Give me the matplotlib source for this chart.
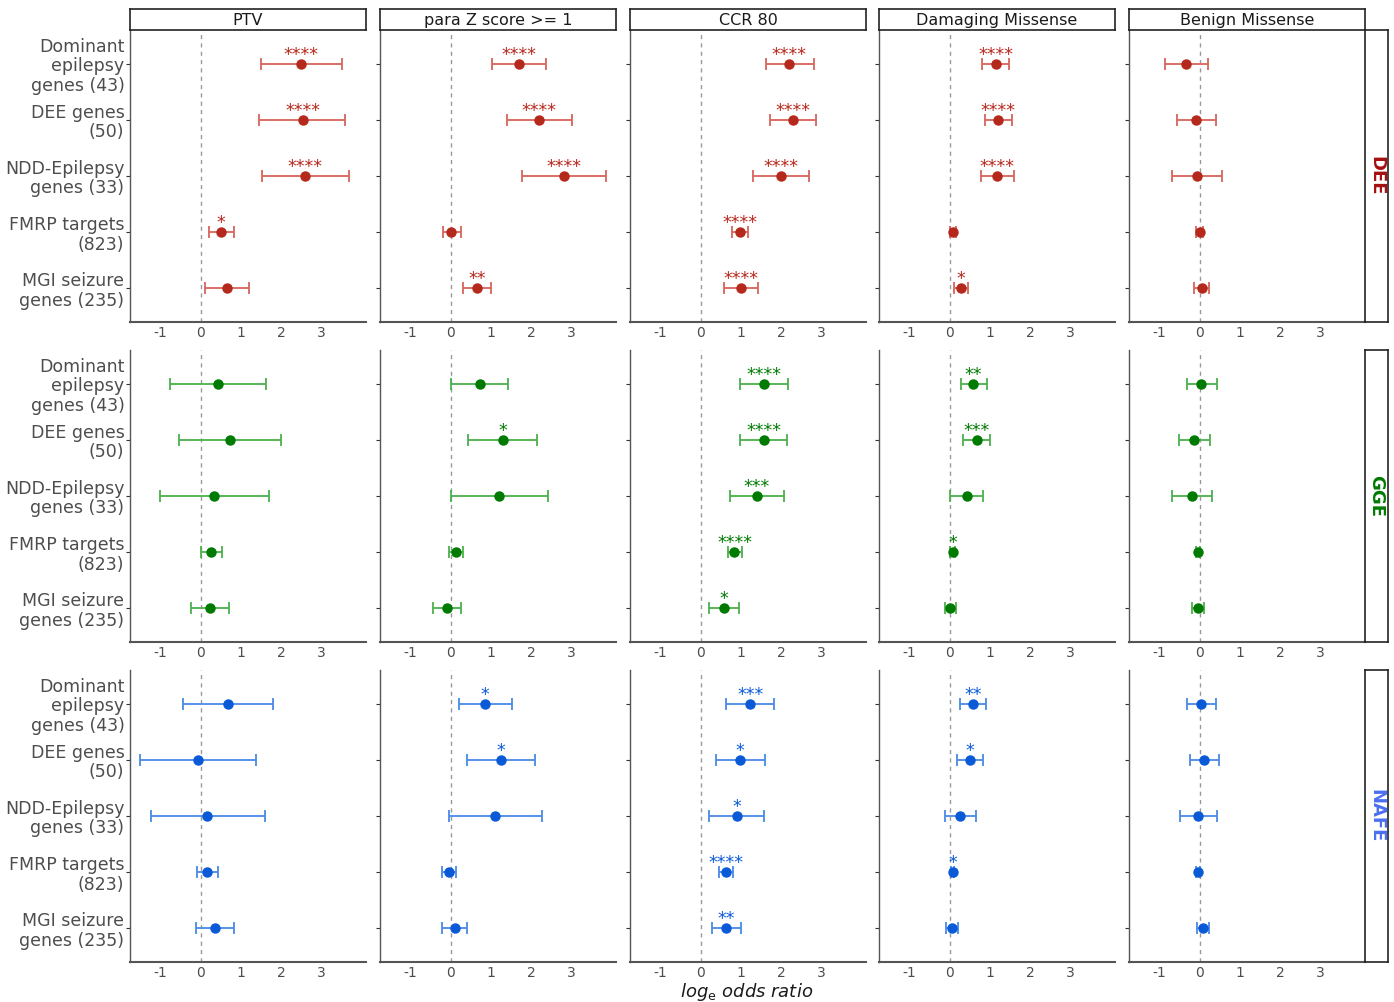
import matplotlib.pyplot as plt

# gene sets (rows inside each panel), variant classes (columns), cohorts (panel rows)
gene_sets = ["Dominant\nepilepsy\ngenes (43)", "DEE genes\n(50)", "NDD-Epilepsy\ngenes (33)",
             "FMRP targets\n(823)", "MGI seizure\ngenes (235)"]
variant_classes = ["PTV", "para Z score >= 1", "CCR 80", "Damaging Missense", "Benign Missense"]
cohorts = ["DEE", "GGE", "NAFE"]
x_ticks = [-1, 0, 1, 2, 3]

# DEE: one list per variant class, values per gene set
dee_est = [[2.49, 2.53, 2.59, 0.51, 0.66],
           [1.69, 2.19, 2.80, 0.02, 0.65],
           [2.20, 2.28, 1.99, 0.98, 1.00],
           [1.14, 1.20, 1.18, 0.08, 0.28],
           [-0.33, -0.08, -0.06, 0.00, 0.06]]
dee_lo = [[1.49, 1.46, 1.52, 0.21, 0.10],
          [1.02, 1.40, 1.78, -0.20, 0.30],
          [1.62, 1.72, 1.31, 0.78, 0.58],
          [0.81, 0.87, 0.78, 0.01, 0.11],
          [-0.86, -0.57, -0.68, -0.08, -0.13]]
dee_hi = [[3.51, 3.59, 3.68, 0.82, 1.21],
          [2.36, 3.00, 3.84, 0.25, 1.01],
          [2.81, 2.87, 2.68, 1.18, 1.43],
          [1.48, 1.54, 1.60, 0.15, 0.45],
          [0.22, 0.41, 0.56, 0.08, 0.24]]
dee_sig = [["****", "****", "****", "*", ""],
           ["****", "****", "****", "", "**"],
           ["****", "****", "****", "****", "****"],
           ["****", "****", "****", "", "*"],
           ["", "", "", "", ""]]

# GGE
gge_est = [[0.43, 0.73, 0.34, 0.27, 0.23],
           [0.73, 1.29, 1.21, 0.13, -0.08],
           [1.57, 1.56, 1.39, 0.84, 0.58],
           [0.59, 0.67, 0.42, 0.08, 0.02],
           [0.04, -0.13, -0.20, -0.04, -0.04]]
gge_lo = [[-0.76, -0.53, -1.01, 0.01, -0.23],
          [0.02, 0.43, 0.01, -0.03, -0.43],
          [0.97, 0.98, 0.72, 0.68, 0.21],
          [0.29, 0.34, 0.02, 0.02, -0.12],
          [-0.32, -0.52, -0.69, -0.10, -0.19]]
gge_hi = [[1.62, 2.00, 1.70, 0.53, 0.71],
          [1.43, 2.14, 2.41, 0.30, 0.27],
          [2.17, 2.14, 2.06, 1.02, 0.94],
          [0.93, 0.99, 0.82, 0.13, 0.17],
          [0.43, 0.26, 0.30, 0.01, 0.12]]
gge_sig = [["", "", "", "", ""],
           ["", "*", "", "", ""],
           ["****", "****", "***", "****", "*"],
           ["**", "***", "", "*", ""],
           ["", "", "", "", ""]]

# NAFE
nafe_est = [[0.67, -0.07, 0.17, 0.17, 0.36],
            [0.86, 1.24, 1.10, -0.04, 0.10],
            [1.23, 0.98, 0.89, 0.62, 0.63],
            [0.58, 0.51, 0.27, 0.08, 0.07],
            [0.04, 0.10, -0.03, -0.04, 0.09]]
nafe_lo = [[-0.44, -1.49, -1.23, -0.09, -0.11],
           [0.20, 0.41, -0.04, -0.21, -0.22],
           [0.64, 0.37, 0.21, 0.46, 0.28],
           [0.27, 0.19, -0.12, 0.03, -0.08],
           [-0.30, -0.24, -0.48, -0.09, -0.06]]
nafe_hi = [[1.80, 1.37, 1.60, 0.43, 0.82],
           [1.52, 2.09, 2.27, 0.13, 0.41],
           [1.83, 1.59, 1.57, 0.80, 1.00],
           [0.90, 0.83, 0.66, 0.12, 0.21],
           [0.40, 0.47, 0.42, 0.00, 0.23]]
nafe_sig = [["", "", "", "", ""],
            ["*", "*", "", "", ""],
            ["***", "*", "*", "****", "**"],
            ["**", "*", "", "*", ""],
            ["", "", "", "", ""]]

cohort_data = {
    "DEE": (dee_est, dee_lo, dee_hi, dee_sig),
    "GGE": (gge_est, gge_lo, gge_hi, gge_sig),
    "NAFE": (nafe_est, nafe_lo, nafe_hi, nafe_sig),
}
point_colors = {"DEE": "#b5281c", "GGE": "#007a00", "NAFE": "#0a5ad8"}
bar_colors = {"DEE": "#d9655b", "GGE": "#4cb04c", "NAFE": "#4a8ae8"}
label_colors = {"DEE": "#a50f0f", "GGE": "#007a00", "NAFE": "#4a6ff0"}

W, H = 1394, 1002
fig = plt.figure(figsize=(W / 100, H / 100), dpi=100)

col_left = [130, 380, 630, 879, 1129]
ax_w = 236
row_top = [30, 350, 670]
ax_h = 292
grey = "#4d4d4d"

ypos = list(range(1, len(gene_sets) + 1))

for r, coh in enumerate(cohorts):
    est, lo, hi, sig = cohort_data[coh]
    for c, vc in enumerate(variant_classes):
        ax = fig.add_axes([col_left[c] / W, 1 - (row_top[r] + ax_h) / H, ax_w / W, ax_h / H])
        ax.axvline(0, color="#999999", ls=(0, (3, 3)), lw=1)
        e, l, h = est[c], lo[c], hi[c]
        xerr = [[e[i] - l[i] for i in range(5)], [h[i] - e[i] for i in range(5)]]
        ax.errorbar(e, ypos, xerr=xerr, fmt="none", ecolor=bar_colors[coh],
                    elinewidth=1.3, capsize=4, capthick=1.3)
        ax.plot(e, ypos, "o", color=point_colors[coh], ms=6.5, zorder=3)
        for i in range(5):
            if sig[c][i]:
                ax.annotate(sig[c][i], (e[i], ypos[i]), xytext=(0, 0), textcoords="offset points",
                            ha="center", va="bottom", color=point_colors[coh], fontsize=12.5)
        ax.set_xlim(-1.75, 4.1)
        ax.set_ylim(5.6, 0.4)
        ax.set_xticks(x_ticks)
        ax.set_xticklabels([str(t) for t in x_ticks])
        ax.set_yticks(ypos)
        if c == 0:
            ax.set_yticklabels(gene_sets, fontsize=12.5, color=grey, linespacing=1.1)
        else:
            ax.set_yticklabels([])
        ax.tick_params(axis="x", colors=grey, labelsize=10, length=0, pad=3)
        ax.tick_params(axis="y", colors="#333333", labelcolor=grey, length=3, width=0.8, pad=1)
        for s in ["top", "right"]:
            ax.spines[s].set_visible(False)
        ax.spines["left"].set_color("#555555")
        ax.spines["bottom"].set_color("#555555")
        ax.spines["left"].set_linewidth(1.0)
        ax.spines["bottom"].set_linewidth(1.5)

        if r == 0:
            sax = fig.add_axes([col_left[c] / W, 1 - 30 / H, ax_w / W, 21 / H])
            sax.set_xticks([])
            sax.set_yticks([])
            for sp in sax.spines.values():
                sp.set_color("#222222")
                sp.set_linewidth(1.2)
            sax.text(0.5, 0.45, vc, ha="center", va="center", fontsize=11.5, color="#1a1a1a",
                     transform=sax.transAxes)

    rax = fig.add_axes([1365 / W, 1 - (row_top[r] + ax_h) / H, 23 / W, ax_h / H])
    rax.set_xticks([])
    rax.set_yticks([])
    for sp in rax.spines.values():
        sp.set_color("#222222")
        sp.set_linewidth(1.2)
    rax.text(0.5, 0.5, coh, ha="center", va="center", rotation=-90, fontsize=13,
             fontweight="bold", color=label_colors[coh], transform=rax.transAxes)

fig.text(747 / W, 1 - 981 / H, r"log$_{\rm e}$ odds ratio", ha="center", va="top",
         fontsize=13, style="italic", color="#1a1a1a")

fig.savefig("out.png", dpi=100)
